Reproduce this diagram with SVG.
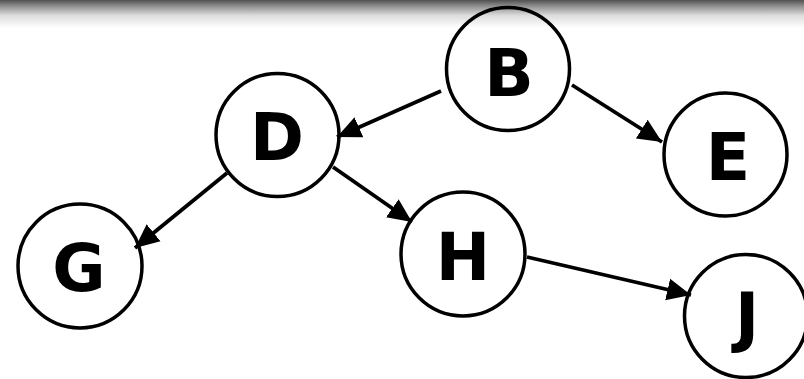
<svg xmlns="http://www.w3.org/2000/svg" width="804" height="379" viewBox="0 0 804 379">
  <defs>
    <linearGradient id="topShade" x1="0" y1="0" x2="0" y2="1">
      <stop offset="0" stop-color="#505050"/>
      <stop offset="0.2" stop-color="#8a8a8a"/>
      <stop offset="0.55" stop-color="#dcdcdc"/>
      <stop offset="1" stop-color="#ffffff"/>
    </linearGradient>
    <marker id="arrow" markerUnits="userSpaceOnUse" markerWidth="26" markerHeight="24" refX="24" refY="12" orient="auto" viewBox="0 0 26 24">
      <path d="M0,1 L24,12 L0,23 z" fill="#000"/>
    </marker>
  </defs>
  <style>
    .node circle { fill: none; stroke: #000; stroke-width: 3.5; }
    .node text { font-family: "DejaVu Sans", "Liberation Sans", sans-serif; font-weight: bold; font-size: 65px; fill: #000; text-anchor: middle; }
    .edge { stroke: #000; stroke-width: 3.8; fill: none; marker-end: url(#arrow); }
  </style>

  <rect x="0" y="0" width="804" height="379" fill="#ffffff"/>
  <rect x="0" y="0" width="804" height="28" fill="url(#topShade)"/>

  <g id="connectors">
    <line class="edge" x1="441" y1="91" x2="337" y2="137"/>
    <line class="edge" x1="572" y1="85" x2="662" y2="142"/>
    <line class="edge" x1="227" y1="173" x2="135" y2="248"/>
    <line class="edge" x1="333" y1="167" x2="412" y2="222"/>
    <line class="edge" x1="527" y1="257" x2="691" y2="295"/>
  </g>

  <g id="node-B" class="node">
    <circle cx="508" cy="69" r="61.5"/>
    <text x="509" y="96">B</text>
  </g>
  <g id="node-D" class="node">
    <circle cx="277.5" cy="135" r="61.5"/>
    <text x="277" y="160">D</text>
  </g>
  <g id="node-E" class="node">
    <circle cx="725.5" cy="154.5" r="61.5"/>
    <text x="728" y="180">E</text>
  </g>
  <g id="node-G" class="node">
    <circle cx="80" cy="266" r="62"/>
    <text x="79" y="291">G</text>
  </g>
  <g id="node-H" class="node">
    <circle cx="463" cy="254" r="62"/>
    <text x="463" y="280">H</text>
  </g>
  <g id="node-J" class="node">
    <circle cx="746" cy="316" r="61.5"/>
    <text x="747" y="340">J</text>
  </g>
</svg>
